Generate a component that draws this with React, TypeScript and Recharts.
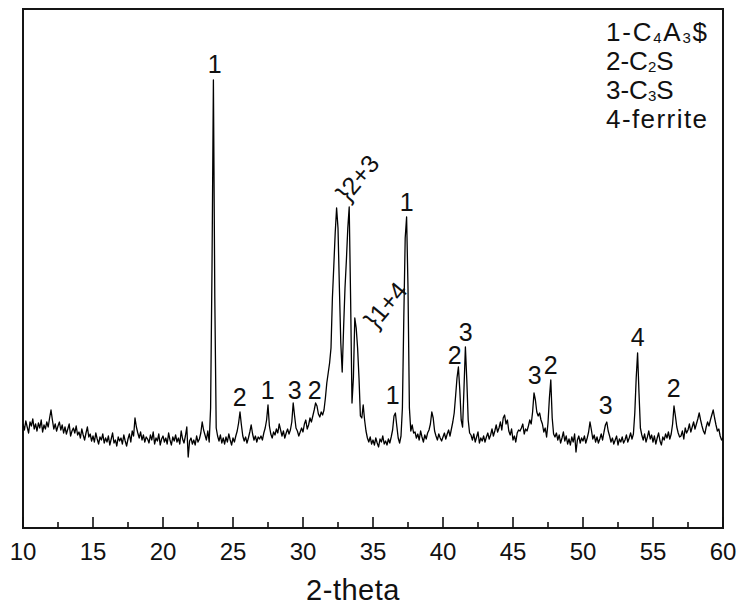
import React from 'react';
import { ComposedChart, Line, XAxis, YAxis, ReferenceArea, Scatter } from 'recharts';

// 2-theta sampling grid: start and step (degrees)
const START_2THETA = 10;
const STEP_2THETA = 0.1;

// Intensity (arbitrary units), one row per degree: N.0 ... N.9
const intensity: number[] = [
  104, 98, 107, 101, 95, 106, 102, 109, 99, 104, // 10
  97, 105, 100, 108, 96, 103, 99, 106, 101, 110, // 11
  118, 108, 99, 104, 97, 102, 106, 98, 103, 95, // 12
  101, 94, 99, 104, 92, 97, 100, 95, 102, 93, // 13
  96, 90, 99, 93, 88, 95, 101, 91, 94, 87, // 14
  92, 86, 95, 89, 84, 91, 88, 94, 85, 90, // 15
  86, 92, 83, 89, 95, 85, 88, 82, 91, 87, // 16
  90, 84, 93, 87, 82, 89, 94, 86, 97, 92, // 17
  110, 101, 95, 90, 96, 88, 93, 86, 91, 89, // 18
  85, 93, 88, 96, 84, 90, 87, 94, 83, 89, // 19
  92, 86, 90, 84, 95, 88, 83, 91, 87, 93, // 20
  86, 90, 84, 97, 89, 85, 92, 101, 71, 87, // 21
  90, 84, 88, 83, 92, 86, 89, 95, 106, 98, // 22
  93, 88, 97, 86, 120, 260, 448, 230, 100, 92, // 23
  87, 93, 85, 90, 84, 91, 86, 94, 88, 83, // 24
  90, 86, 92, 97, 105, 116, 103, 92, 87, 91, // 25
  85, 90, 96, 103, 94, 88, 92, 86, 91, 89, // 26
  92, 88, 95, 100, 108, 123, 102, 94, 90, 96, // 27
  93, 99, 95, 104, 98, 92, 97, 90, 95, 99, // 28
  94, 98, 106, 125, 112, 100, 97, 92, 96, 100, // 29
  96, 104, 108, 99, 103, 110, 106, 112, 118, 125, // 30
  122, 114, 111, 116, 113, 118, 130, 145, 155, 165, // 31
  180, 230, 262, 295, 320, 300, 240, 185, 156, 200, // 32
  240, 268, 300, 321, 230, 125, 150, 210, 200, 180, // 33
  150, 112, 110, 123, 108, 97, 90, 86, 91, 84, // 34
  88, 83, 90, 85, 81, 89, 86, 92, 84, 87, // 35
  83, 89, 85, 91, 98, 112, 115, 102, 90, 85, // 36
  92, 120, 210, 290, 311, 240, 120, 97, 103, 95, // 37
  96, 90, 94, 88, 97, 91, 86, 93, 89, 95, // 38
  98, 104, 116, 110, 97, 92, 88, 94, 90, 87, // 39
  91, 95, 89, 94, 98, 92, 99, 106, 115, 132, // 40
  150, 161, 138, 108, 101, 140, 181, 148, 108, 95, // 41
  93, 88, 94, 86, 91, 96, 85, 90, 87, 92, // 42
  86, 91, 95, 89, 93, 99, 92, 97, 103, 96, // 43
  100, 106, 98, 110, 113, 104, 108, 97, 93, 99, // 44
  88, 92, 86, 95, 98, 97, 100, 104, 94, 99, // 45
  97, 102, 108, 104, 116, 135, 128, 116, 112, 115, // 46
  108, 104, 96, 100, 91, 105, 130, 148, 110, 94, // 47
  91, 95, 88, 93, 85, 90, 96, 87, 92, 84, // 48
  89, 83, 91, 86, 94, 76, 88, 92, 85, 90, // 49
  87, 92, 85, 90, 96, 106, 98, 89, 93, 86, // 50
  91, 85, 89, 94, 88, 96, 103, 106, 97, 92, // 51
  86, 90, 84, 88, 92, 83, 89, 86, 91, 85, // 52
  88, 93, 86, 90, 95, 89, 94, 115, 150, 175, // 53
  135, 100, 93, 88, 94, 86, 91, 97, 89, 93, // 54
  86, 92, 84, 90, 95, 87, 83, 91, 88, 94, // 55
  90, 96, 89, 94, 104, 122, 112, 101, 95, 91, // 56
  92, 97, 89, 100, 95, 98, 104, 96, 101, 106, // 57
  99, 104, 109, 115, 108, 102, 97, 94, 101, 106, // 58
  102, 108, 113, 118, 110, 103, 97, 99, 92, 88, // 59
  90, // 60
];

const xTicks = [10, 12.5, 15, 17.5, 20, 22.5, 25, 27.5, 30, 32.5, 35, 37.5, 40, 42.5, 45, 47.5, 50, 52.5, 55, 57.5, 60];
const xDomain: [number, number] = [10, 60];
const yDomain: [number, number] = [0, 519];

// Phase labels above peaks (2-theta, intensity, text)
const peakLabels = [
  { t: 23.69, v: 464, text: '1' },
  { t: 25.48, v: 131, text: '2' },
  { t: 27.48, v: 138, text: '1' },
  { t: 29.41, v: 138, text: '3' },
  { t: 30.84, v: 138, text: '2' },
  { t: 36.41, v: 133, text: '1' },
  { t: 37.41, v: 326, text: '1' },
  { t: 40.84, v: 173, text: '2' },
  { t: 41.62, v: 196, text: '3' },
  { t: 46.55, v: 153, text: '3' },
  { t: 47.69, v: 163, text: '2' },
  { t: 51.62, v: 123, text: '3' },
  { t: 53.91, v: 191, text: '4' },
  { t: 56.48, v: 140, text: '2' },
];

// Grouped labels (drawn tilted)
const groupLabels = [
  { t: 33.21, v: 325, text: '}2+3' },
  { t: 35.21, v: 198, text: '}1+4' },
];

const legendLines = [
  [{ s: '1-C' }, { s: '4', sub: true }, { s: 'A' }, { s: '3', sub: true }, { s: '$' }],
  [{ s: '2-C' }, { s: '2', sub: true }, { s: 'S' }],
  [{ s: '3-C' }, { s: '3', sub: true }, { s: 'S' }],
  [{ s: '4-ferrite' }],
];

const xTitle = '2-theta';

const chartData = intensity.map((v, i) => ({ t: +(START_2THETA + i * STEP_2THETA).toFixed(2), v }));

const FONT = '"Liberation Sans", Arial, Helvetica, sans-serif';

const AxisTick = (props: any) => {
  const { x, y, payload } = props;
  const major = payload.value % 5 === 0;
  return (
    <g>
      <line x1={x} x2={x} y1={y} y2={y - (major ? 11 : 6)} stroke="#111" strokeWidth={1.6} />
      {major && (
        <text x={x} y={y + 32} textAnchor="middle" fontSize={24} fontFamily={FONT} fill="#111">
          {payload.value}
        </text>
      )}
    </g>
  );
};

const PeakLabel = (props: any) => {
  const { cx, cy, payload } = props;
  return (
    <text x={cx} y={cy} dy="0.36em" textAnchor="middle" fontSize={25} fontFamily={FONT} fill="#111">
      {payload.text}
    </text>
  );
};

const GroupLabel = (props: any) => {
  const { cx, cy, payload } = props;
  return (
    <text x={cx} y={cy} textAnchor="start" fontSize={25} fontFamily={FONT} fill="#111"
      transform={`rotate(-50, ${cx}, ${cy})`}>
      {payload.text}
    </text>
  );
};

export default function App() {
  return (
    <div style={{ position: 'absolute', left: 0, top: 0, width: 743, height: 616, background: '#fff' }}>
      <ComposedChart width={743} height={616} data={chartData}
        margin={{ top: 9, right: 20, left: 23, bottom: 0 }}>
        <XAxis dataKey="t" type="number" domain={xDomain} ticks={xTicks} interval={0}
          allowDataOverflow tick={(p: any) => <AxisTick {...p} />} tickLine={false}
          axisLine={false} tickSize={0} tickMargin={0} height={88} />
        <YAxis type="number" domain={yDomain} allowDataOverflow hide />
        <Line dataKey="v" stroke="#000" strokeWidth={1.3} strokeLinejoin="round" dot={false} isAnimationActive={false} />
        <Scatter data={peakLabels} dataKey="v" shape={(p: any) => <PeakLabel {...p} />} isAnimationActive={false} />
        <Scatter data={groupLabels} dataKey="v" shape={(p: any) => <GroupLabel {...p} />} isAnimationActive={false} />
        <ReferenceArea x1={10} x2={60} y1={0} y2={519} fill="none" fillOpacity={0}
          stroke="#151515" strokeWidth={2} />
      </ComposedChart>
      <svg width={743} height={616} style={{ position: 'absolute', left: 0, top: 0, pointerEvents: 'none' }}>
        <text x={353} y={600} textAnchor="middle" fontSize={29} fontFamily={FONT} fill="#111" letterSpacing={0.5}>
          {xTitle}
        </text>
        {legendLines.map((line, i) => (
          <text key={i} x={606} y={41 + i * 29} fontSize={26} fontFamily={FONT} fill="#111"
            {...(i === 0 || i === 3 ? { textLength: 101, lengthAdjust: 'spacing' } : {})}>
            {line.map((seg: any, j: number) => {
              const prevSub = j > 0 && (line[j - 1] as any).sub;
              if (seg.sub) return <tspan key={j} fontSize={15} dy={2}>{seg.s}</tspan>;
              return <tspan key={j} dy={prevSub ? -2 : 0}>{seg.s}</tspan>;
            })}
          </text>
        ))}
      </svg>
    </div>
  );
}
